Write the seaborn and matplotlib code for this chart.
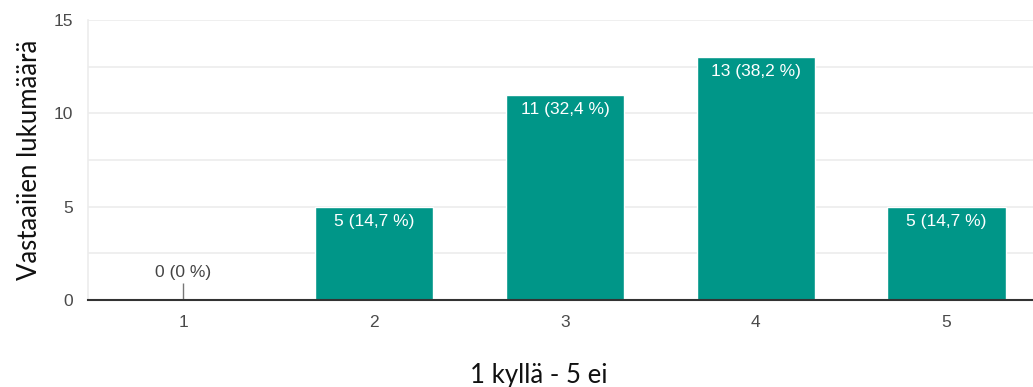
import matplotlib
matplotlib.use("Agg")
import matplotlib.pyplot as plt
import seaborn as sns
import pandas as pd

categories = ["1", "2", "3", "4", "5"]
counts = [0, 5, 11, 13, 5]
labels = ["0 (0 %)", "5 (14,7 %)", "11 (32,4 %)", "13 (38,2 %)", "5 (14,7 %)"]

sns.set_theme(style="white")
plt.rcParams["font.family"] = ["Liberation Sans", "DejaVu Sans"]

df = pd.DataFrame({"cat": categories, "n": counts})

fig = plt.figure(figsize=(10.33, 3.87), dpi=100)
ax = fig.add_axes([88 / 1033, 1 - 300 / 387, 1 - 88 / 1033, 280 / 387])

sns.barplot(data=df, x="cat", y="n", color="#009688", saturation=1, width=0.62, ax=ax, zorder=3)

ax.set_ylim(0, 15)
ax.set_xlim(-0.5, 4.453)
ax.set_yticks([0, 5, 10, 15])
ax.set_yticks([2.5, 7.5, 12.5], minor=True)
ax.grid(axis="y", which="both", color="#ececec", linewidth=1.2, zorder=0)
ax.set_axisbelow(True)

for s in ["top", "right"]:
    ax.spines[s].set_visible(False)
ax.spines["left"].set_color("#ececec")
ax.spines["left"].set_linewidth(1.2)
ax.spines["bottom"].set_color("#333333")
ax.spines["bottom"].set_linewidth(1.5)
ax.spines["bottom"].set_zorder(5)

ax.tick_params(axis="both", which="both", length=0, labelsize=12.5, colors="#4a4a4a")
ax.tick_params(axis="y", pad=11)
ax.tick_params(axis="x", pad=11)

for i, (v, lab) in enumerate(zip(counts, labels)):
    if v == 0:
        ax.vlines(i, 0, 0.9, color="#777777", linewidth=1, zorder=4)
        ax.annotate(lab, (i, 0.9), xytext=(0, 2), textcoords="offset points",
                    ha="center", va="bottom", fontsize=12.5, color="#444444")
    else:
        ax.annotate(lab, (i, v), xytext=(0, -5), textcoords="offset points",
                    ha="center", va="top", fontsize=12.5, color="white", zorder=6)

ax.set_xlabel("")
ax.set_ylabel("")
fig.text(539 / 1033, 1 - 375 / 387, "1 kyllä - 5 ei", fontsize=18.5,
         family=["Lato", "DejaVu Sans"], color="#111111", ha="center", va="center")
fig.text(30 / 1033, 1 - 160 / 387, "Vastaaiien lukumäärä", fontsize=18.5, rotation=90,
         family=["Lato", "DejaVu Sans"], color="#111111", ha="center", va="center")

fig.savefig("out.png", dpi=100)
